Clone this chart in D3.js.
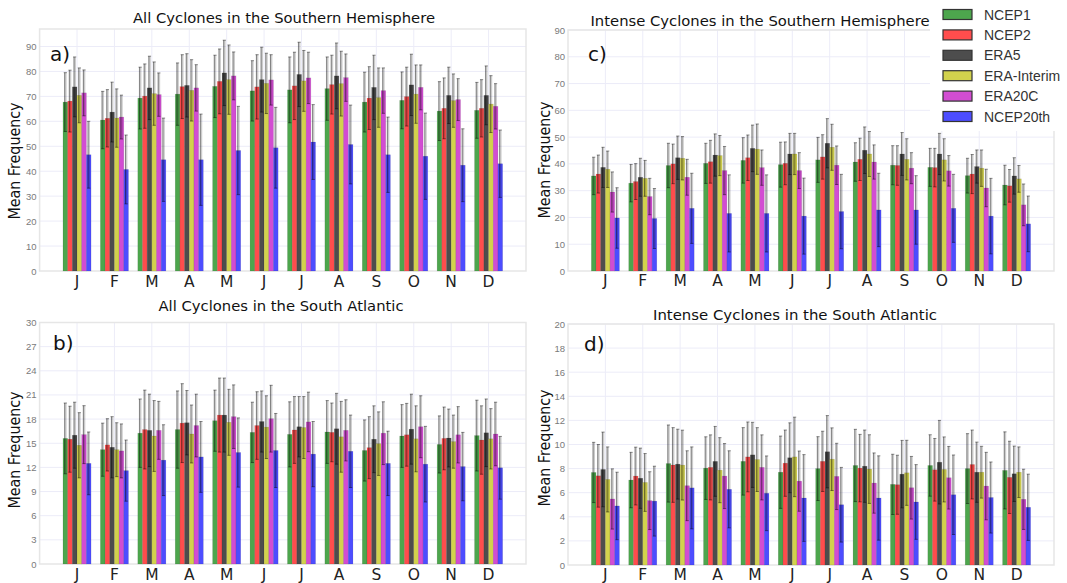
<!DOCTYPE html>
<html lang="en">
<head>
<meta charset="UTF-8">
<title>Cyclone frequency</title>
<script src="https://d3js.org/d3.v7.min.js"></script>
<style>
  body { margin: 0; background: #fff; }
  svg text { font-family: "DejaVu Sans", sans-serif; }
</style>
</head>
<body>
<div id="chart"></div>
<script>

// months and datasets
var months = ["J", "F", "M", "A", "M", "J", "J", "A", "S", "O", "N", "D"];
var seriesNames = ["NCEP1", "NCEP2", "ERA5", "ERA-Interim", "ERA20C", "NCEP20th"];
var seriesColors = ["#4da64d", "#ff4d4d", "#4d4d4d", "#d2d24d", "#d24dd2", "#4d4dff"];

// a) all cyclones, southern hemisphere (one row per dataset)
var shAllMean = [
  [67.7, 60.5, 69.3, 70.9, 74.0, 72.2, 72.6, 73.1, 67.7, 68.4, 64.1, 64.4],
  [68.1, 61.2, 70.1, 73.9, 76.0, 73.8, 74.2, 74.7, 69.3, 69.9, 65.2, 65.2],
  [73.8, 63.7, 73.4, 74.4, 79.4, 76.7, 78.8, 78.2, 73.6, 74.6, 70.4, 70.4],
  [70.4, 61.3, 71.1, 72.4, 76.7, 75.2, 76.2, 75.1, 69.5, 70.9, 68.3, 66.9],
  [71.4, 61.7, 70.7, 73.4, 78.2, 76.6, 77.4, 77.5, 72.3, 73.6, 68.7, 66.0],
  [46.6, 40.7, 44.6, 44.6, 48.3, 49.4, 51.7, 50.7, 46.6, 46.0, 42.4, 43.0]
];
var shAllSd = [
  [11.8, 11.5, 12.4, 12.5, 12.5, 12.1, 13.2, 12.7, 12.0, 11.4, 11.8, 11.2],
  [12.4, 11.5, 12.9, 12.8, 13.0, 12.9, 13.5, 11.8, 12.6, 11.8, 12.2, 11.5],
  [12.0, 12.0, 12.7, 12.7, 13.1, 13.0, 12.9, 13.2, 12.9, 12.3, 11.3, 11.8],
  [11.0, 11.7, 12.7, 12.3, 13.9, 12.1, 12.2, 13.0, 11.9, 11.7, 10.7, 11.4],
  [9.2, 8.8, 8.7, 9.3, 9.6, 10.1, 10.3, 9.5, 9.1, 9.0, 8.4, 9.1],
  [13.4, 13.8, 16.7, 18.3, 17.7, 16.2, 15.0, 15.8, 15.1, 17.3, 14.6, 13.5]
];

// b) all cyclones, south atlantic
var saAllMean = [
  [15.6, 14.2, 16.25, 16.7, 17.8, 16.35, 16.1, 16.4, 14.1, 15.9, 14.85, 15.95],
  [15.5, 14.8, 16.7, 17.5, 18.5, 17.2, 16.65, 16.35, 14.45, 16.05, 15.6, 15.4],
  [16.0, 14.5, 16.6, 17.55, 18.5, 17.7, 17.05, 16.8, 15.5, 16.75, 15.65, 16.3],
  [14.75, 14.2, 15.9, 16.15, 17.6, 17.0, 16.95, 15.8, 14.95, 15.55, 15.2, 15.55],
  [16.07, 14.05, 16.6, 17.2, 18.3, 18.05, 17.65, 16.6, 16.25, 17.05, 16.05, 16.15],
  [12.5, 11.6, 12.9, 13.3, 13.85, 14.1, 13.65, 14.0, 12.5, 12.4, 12.1, 11.95]
];
var saAllSd = [
  [4.4, 3.3, 4.25, 4.8, 3.8, 3.75, 4.05, 3.9, 3.8, 3.9, 3.55, 4.4],
  [4.1, 3.25, 4.9, 4.9, 4.6, 4.2, 4.15, 3.65, 3.85, 3.9, 3.9, 4.25],
  [4.1, 3.8, 4.5, 4.0, 4.6, 3.8, 3.75, 4.4, 4.15, 4.35, 3.6, 4.2],
  [4.05, 3.35, 4.4, 3.6, 4.1, 3.9, 3.85, 4.4, 3.95, 4.1, 3.3, 3.75],
  [3.6, 3.35, 3.6, 3.9, 3.95, 4.15, 3.7, 3.8, 3.9, 3.85, 3.5, 3.95],
  [3.9, 3.8, 4.4, 4.4, 4.3, 4.6, 4.05, 4.5, 4.0, 4.7, 4.25, 3.9]
];

// c) intense cyclones, southern hemisphere
var shIntMean = [
  [35.5, 32.8, 39.4, 40.2, 41.3, 39.7, 41.5, 40.7, 39.5, 38.7, 35.6, 32.1],
  [36.2, 33.4, 40.0, 40.8, 42.3, 40.2, 42.6, 41.7, 39.4, 38.6, 36.2, 31.8],
  [38.7, 35.0, 42.3, 43.3, 45.8, 43.7, 47.7, 45.1, 43.7, 43.7, 39.0, 35.5],
  [38.0, 34.6, 42.1, 43.1, 45.5, 43.7, 46.2, 43.7, 41.7, 41.5, 38.4, 34.4],
  [29.5, 27.8, 35.0, 37.5, 38.6, 37.5, 39.5, 40.7, 38.4, 37.4, 31.0, 24.7],
  [19.8, 19.6, 23.4, 21.5, 21.5, 20.5, 22.2, 22.8, 22.8, 23.4, 20.5, 17.6]
];
var shIntSd = [
  [7.0, 7.0, 8.3, 7.5, 8.5, 8.4, 8.4, 7.2, 7.3, 7.1, 6.5, 7.4],
  [7.1, 6.7, 7.4, 8.0, 8.5, 8.0, 8.3, 7.9, 7.4, 7.2, 7.3, 6.1],
  [7.5, 7.1, 8.1, 7.9, 8.7, 7.7, 9.2, 8.7, 8.0, 7.7, 6.2, 6.8],
  [6.8, 6.7, 8.1, 7.5, 9.4, 7.7, 8.6, 8.4, 7.7, 7.9, 6.8, 5.0],
  [7.5, 6.8, 6.7, 9.0, 6.6, 6.7, 7.2, 6.4, 5.8, 5.7, 7.0, 7.8],
  [11.3, 11.2, 13.1, 14.4, 14.4, 14.2, 13.9, 13.7, 12.8, 12.7, 14.1, 10.4]
];

// d) intense cyclones, south atlantic
var saIntMean = [
  [7.68, 7.05, 8.42, 8.04, 8.6, 7.7, 8.0, 8.26, 6.69, 8.26, 8.0, 7.85],
  [7.4, 7.38, 8.3, 8.1, 8.97, 8.45, 8.6, 8.04, 6.66, 7.9, 8.34, 7.27],
  [7.93, 7.2, 8.37, 8.6, 9.14, 8.9, 9.4, 8.2, 7.54, 8.53, 7.7, 7.57],
  [7.1, 6.85, 8.29, 7.87, 8.75, 8.97, 8.78, 7.96, 7.65, 7.93, 7.7, 7.7],
  [5.48, 5.34, 6.58, 7.38, 8.1, 6.96, 7.35, 6.8, 6.41, 7.24, 6.55, 5.45],
  [4.9, 5.3, 6.4, 6.28, 5.95, 5.56, 5.0, 5.56, 5.23, 5.83, 5.6, 4.79]
];
var saIntSd = [
  [2.5, 2.3, 3.2, 2.6, 2.8, 3.0, 2.65, 3.0, 2.5, 2.55, 2.9, 3.2],
  [2.6, 2.4, 3.1, 2.7, 2.9, 2.75, 2.5, 2.8, 2.45, 2.6, 2.86, 3.0],
  [3.1, 2.5, 2.9, 2.9, 2.7, 2.9, 3.0, 3.0, 2.8, 3.47, 2.5, 2.3],
  [2.7, 2.4, 2.9, 2.7, 2.65, 3.3, 2.6, 2.85, 2.7, 2.7, 2.15, 2.1],
  [2.5, 2.4, 2.9, 2.7, 2.7, 2.5, 2.75, 2.5, 2.6, 2.6, 2.8, 2.5],
  [2.8, 2.9, 3.4, 3.2, 3.1, 3.6, 3.1, 3.5, 3.1, 3.3, 2.95, 2.75]
];

// y tick labels of each panel
var ticksA = [0, 10, 20, 30, 40, 50, 60, 70, 80, 90];
var ticksB = [0, 3, 6, 9, 12, 15, 18, 21, 24, 27, 30];
var ticksC = [0, 10, 20, 30, 40, 50, 60, 70, 80, 90];
var ticksD = [0, 2, 4, 6, 8, 10, 12, 14, 16, 18, 20];

var W = 1067, H = 583;
var svg = d3.select("#chart").append("svg")
    .attr("width", W).attr("height", H);

var panels = [
  {label: "a)", title: "All Cyclones in the Southern Hemisphere", mean: shAllMean, sd: shAllSd, ticks: ticksA, ymax: 97,
   x0: 39.6, x1: 526, y0: 29, y1: 271, tx: 284, ty: 23, tw: 302, lx: 50, ly: 61, yt: 161, ytx: 20, mb: 287},
  {label: "b)", title: "All Cyclones in the South Atlantic", mean: saAllMean, sd: saAllSd, ticks: ticksB, ymax: 30,
   x0: 39.6, x1: 526, y0: 322.5, y1: 564, tx: 281, ty: 311, tw: 245, lx: 53, ly: 350, yt: 450, ytx: 20, mb: 580},
  {label: "c)", title: "Intense Cyclones in the Southern Hemisphere", mean: shIntMean, sd: shIntSd, ticks: ticksC, ymax: 90,
   x0: 568, x1: 1054, y0: 30, y1: 271, tx: 760, ty: 26, tw: 339, lx: 588, ly: 61, yt: 160, ytx: 550, mb: 286},
  {label: "d)", title: "Intense Cyclones in the South Atlantic", mean: saIntMean, sd: saIntSd, ticks: ticksD, ymax: 20,
   x0: 568, x1: 1054, y0: 324, y1: 565, tx: 795, ty: 320, tw: 284, lx: 584, ly: 351, yt: 448, ytx: 550, mb: 580}
];

panels.forEach(drawPanel);

function drawPanel(p) {
  var g = svg.append("g");

  var x = d3.scaleBand()
      .domain(d3.range(months.length))
      .range([p.x0, p.x1])
      .paddingInner(0)
      .paddingOuter(0.5);
  var y = d3.scaleLinear()
      .domain([0, p.ymax])
      .range([p.y1, p.y0]);

  var groupW = x.step() * 0.75;
  var xs = d3.scaleBand()
      .domain(seriesNames)
      .range([-groupW / 2, groupW / 2]);

  // grid
  g.selectAll(".hgrid")
    .data(p.ticks.filter(function(t) { return t > 0; }))
    .enter().append("line")
      .attr("x1", p.x0).attr("x2", p.x1)
      .attr("y1", function(d) { return y(d); })
      .attr("y2", function(d) { return y(d); })
      .style("stroke", "#ececf8").style("stroke-width", 1);
  g.selectAll(".vgrid")
    .data(d3.range(months.length))
    .enter().append("line")
      .attr("x1", function(d) { return x(d) + x.bandwidth() / 2; })
      .attr("x2", function(d) { return x(d) + x.bandwidth() / 2; })
      .attr("y1", p.y0).attr("y2", p.y1)
      .style("stroke", "#ececf8").style("stroke-width", 1);

  // frame
  g.append("rect")
    .attr("x", p.x0).attr("y", p.y0)
    .attr("width", p.x1 - p.x0).attr("height", p.y1 - p.y0)
    .style("fill", "none").style("stroke", "#e6e6e6").style("stroke-width", 1.5);

  // flat list of bars
  var bars = [];
  seriesNames.forEach(function(s, si) {
    months.forEach(function(m, mi) {
      bars.push({s: s, si: si, mi: mi, v: p.mean[si][mi], e: p.sd[si][mi]});
    });
  });

  g.selectAll(".bar")
    .data(bars)
    .enter().append("rect")
      .attr("x", function(d) { return x(d.mi) + x.bandwidth() / 2 + xs(d.s); })
      .attr("y", function(d) { return y(d.v); })
      .attr("width", xs.bandwidth())
      .attr("height", function(d) { return y(0) - y(d.v); })
      .style("fill", function(d) { return seriesColors[d.si]; })
      .style("stroke", "rgba(0,0,0,0.15)")
      .style("stroke-width", 0.6);

  // error bars: light wide band plus a thin darker line and caps
  var cx = function(d) { return x(d.mi) + x.bandwidth() / 2 + xs(d.s) + xs.bandwidth() / 2; };
  g.selectAll(".errw")
    .data(bars)
    .enter().append("line")
      .attr("x1", cx).attr("x2", cx)
      .attr("y1", function(d) { return y(d.v - d.e); })
      .attr("y2", function(d) { return y(d.v + d.e); })
      .style("stroke", "rgba(0,0,0,0.2)").style("stroke-width", 2.6);
  g.selectAll(".errl")
    .data(bars)
    .enter().append("line")
      .attr("x1", function(d) { return cx(d) - 0.6; })
      .attr("x2", function(d) { return cx(d) - 0.6; })
      .attr("y1", function(d) { return y(d.v - d.e); })
      .attr("y2", function(d) { return y(d.v + d.e); })
      .style("stroke", "rgba(0,0,0,0.45)").style("stroke-width", 0.8);
  ["top", "bottom"].forEach(function(end) {
    g.selectAll(".cap-" + end)
      .data(bars)
      .enter().append("line")
        .attr("x1", function(d) { return cx(d) - 1.6; })
        .attr("x2", function(d) { return cx(d) + 1.6; })
        .attr("y1", function(d) { return y(end == "top" ? d.v + d.e : d.v - d.e); })
        .attr("y2", function(d) { return y(end == "top" ? d.v + d.e : d.v - d.e); })
        .style("stroke", "rgba(0,0,0,0.55)").style("stroke-width", 0.8);
  });

  // axes
  var yAxis = g.append("g")
    .attr("transform", "translate(" + p.x0 + ",0)")
    .call(d3.axisLeft(y).tickValues(p.ticks).tickSize(0).tickPadding(3));
  yAxis.select(".domain").remove();
  yAxis.selectAll("text")
    .style("font-family", "'Liberation Sans', Arial, sans-serif")
    .style("font-size", "9.5px").style("fill", "#7a7a7a");

  var xAxis = g.append("g")
    .attr("transform", "translate(0," + p.y1 + ")")
    .call(d3.axisBottom(x).tickFormat(function(i) { return months[i]; }).tickSize(0).tickPadding(0));
  xAxis.select(".domain").remove();
  xAxis.selectAll("text")
    .attr("dy", null)
    .attr("y", p.mb - p.y1)
    .style("font-size", "15.5px").style("fill", "#222");

  // titles and labels
  g.append("text")
    .attr("x", p.tx).attr("y", p.ty)
    .attr("text-anchor", "middle")
    .attr("textLength", p.tw).attr("lengthAdjust", "spacingAndGlyphs")
    .style("font-size", "14.5px").style("fill", "#111")
    .text(p.title);

  g.append("text")
    .attr("x", p.lx).attr("y", p.ly)
    .style("font-size", "20px").style("fill", "#111")
    .text(p.label);

  g.append("text")
    .attr("transform", "translate(" + p.ytx + "," + p.yt + ") rotate(-90)")
    .attr("text-anchor", "middle")
    .attr("textLength", 117).attr("lengthAdjust", "spacingAndGlyphs")
    .style("font-size", "16px").style("fill", "#111")
    .text("Mean Frequency");
}

// legend (white box over the top right of panel c)
var legend = svg.append("g");
legend.append("rect")
  .attr("x", 930).attr("y", 0).attr("width", W - 930).attr("height", 131)
  .style("fill", "#fff");
var ly = d3.scalePoint().domain(seriesNames).range([14.5, 116.5]);
legend.selectAll(".sw")
  .data(seriesNames)
  .enter().append("rect")
    .attr("x", 943).attr("y", function(d) { return ly(d) - 5; })
    .attr("width", 29).attr("height", 10)
    .style("fill", function(d, i) { return seriesColors[i]; })
    .style("stroke", "#333").style("stroke-width", 1.2);
legend.selectAll(".lt")
  .data(seriesNames)
  .enter().append("text")
    .attr("x", 984).attr("y", function(d) { return ly(d) + 5; })
    .style("font-family", "'Liberation Sans', Arial, sans-serif")
    .style("font-size", "14px").style("fill", "#333")
    .text(function(d) { return d; });

</script>
</body>
</html>
